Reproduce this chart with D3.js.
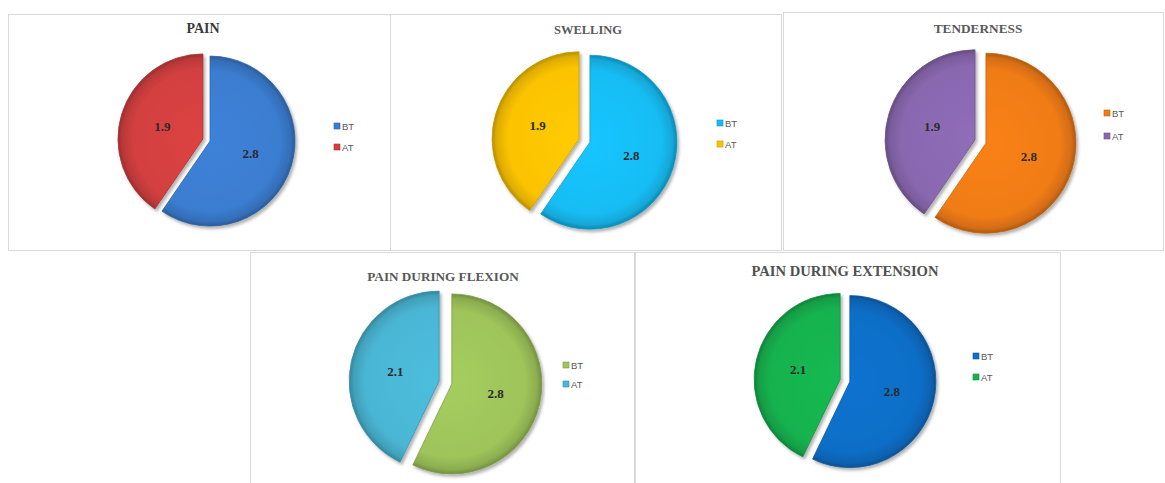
<!DOCTYPE html>
<html>
<head>
<meta charset="utf-8">
<script src="https://cdn.jsdelivr.net/npm/d3@7"></script>
<style>
  html, body { margin: 0; padding: 0; background: #ffffff; }
  svg { display: block; }
</style>
</head>
<body>
<svg id="chart" width="1165" height="483"></svg>
<script>
// ---- data ----
const titles = ["PAIN", "SWELLING", "TENDERNESS", "PAIN DURING FLEXION", "PAIN DURING EXTENSION"];
const categories = ["BT", "AT"];
const btValues = [2.8, 2.8, 2.8, 2.8, 2.8];
const atValues = [1.9, 1.9, 1.9, 2.1, 2.1];
const btColors = ["#3b7dd0", "#14bdf4", "#f07c16", "#9ec45a", "#0f6ec7"];
const atColors = ["#d3403f", "#fbc300", "#8a68b0", "#4ab6d4", "#16b24f"];

// ---- panel layout ----
const layout = [
  { frame: [8, 14, 382, 236],   cx: 206.5, cy: 140,   r: 85, explode: 3.7, titleX: 203, titleY: 33,  titleSize: 14,   titleColor: "#3a3a3a", legendX: 334,  legendY: [126, 147] },
  { frame: [390, 14, 391, 236], cx: 584.5, cy: 140.5, r: 87, explode: 5.7, titleX: 588, titleY: 34,  titleSize: 12.5, titleColor: "#595959", legendX: 717,  legendY: [123, 144] },
  { frame: [783, 12, 380, 238], cx: 980.5, cy: 141.5, r: 90, explode: 5.7, titleX: 978, titleY: 33,  titleSize: 13.3, titleColor: "#595959", legendX: 1104, legendY: [113, 136] },
  { frame: [250, 252, 384, 240], cx: 445.5, cy: 382.5, r: 90, explode: 6.5, titleX: 443, titleY: 281, titleSize: 13.2, titleColor: "#595959", legendX: 563, legendY: [365, 384] },
  { frame: [635, 252, 425, 240], cx: 845,   cy: 380.5, r: 86, explode: 5,   titleX: 845, titleY: 276, titleSize: 14.6, titleColor: "#505050", legendX: 973,  legendY: [356, 377] }
];

const svg = d3.select("#chart");
const defs = svg.append("defs");

// soft shadow under the slices
const shadow = defs.append("filter").attr("id", "sliceShadow")
  .attr("x", "-20%").attr("y", "-20%").attr("width", "140%").attr("height", "140%");
shadow.append("feDropShadow")
  .attr("dx", 2).attr("dy", 2.5).attr("stdDeviation", 1.8)
  .attr("flood-color", "#000").attr("flood-opacity", 0.3);

const pie = d3.pie().sort(null).value(d => d.value).startAngle(0).endAngle(2 * Math.PI);

titles.forEach((title, i) => {
  const L = layout[i];
  const g = svg.append("g").attr("class", "panel");

  // panel frame
  const [fx, fy, fw, fh] = L.frame;
  g.append("rect")
    .attr("x", fx + 0.5).attr("y", fy + 0.5)
    .attr("width", fw).attr("height", fh)
    .attr("fill", "#ffffff").attr("stroke", "#d9d9d9").attr("stroke-width", 1);

  // title
  g.append("text")
    .attr("x", L.titleX).attr("y", L.titleY)
    .attr("text-anchor", "middle")
    .attr("font-family", "'Liberation Serif', 'Times New Roman', serif")
    .attr("font-weight", "bold")
    .attr("font-size", L.titleSize)
    .attr("fill", L.titleColor)
    .text(title);

  const rows = categories.map((c, k) => ({
    cat: c,
    value: k === 0 ? btValues[i] : atValues[i],
    color: k === 0 ? btColors[i] : atColors[i]
  }));

  const arc = d3.arc().innerRadius(0).outerRadius(L.r);
  const arcs = pie(rows);

  const pieG = g.append("g").attr("transform", `translate(${L.cx},${L.cy})`);

  arcs.forEach((a, k) => {
    const mid = (a.startAngle + a.endAngle) / 2;
    const dx = Math.sin(mid) * L.explode;
    const dy = -Math.cos(mid) * L.explode;
    const base = d3.color(a.data.color);
    const gradId = `bevel-${i}-${k}`;
    const grad = defs.append("radialGradient").attr("id", gradId)
      .attr("gradientUnits", "userSpaceOnUse")
      .attr("cx", 0).attr("cy", 0).attr("r", L.r);
    grad.append("stop").attr("offset", "0%").attr("stop-color", base.brighter(0.12).formatHex());
    grad.append("stop").attr("offset", "82%").attr("stop-color", base.formatHex());
    grad.append("stop").attr("offset", "95%").attr("stop-color", base.darker(0.35).formatHex());
    grad.append("stop").attr("offset", "100%").attr("stop-color", base.darker(0.9).formatHex());

    const sg = pieG.append("g").attr("transform", `translate(${dx},${dy})`);
    sg.append("path")
      .attr("d", arc(a))
      .attr("fill", `url(#${gradId})`)
      .attr("stroke", base.darker(0.6).formatHex())
      .attr("stroke-width", 0.8)
      .attr("stroke-linejoin", "round")
      .attr("filter", "url(#sliceShadow)");

    const [lx, ly] = arc.centroid(a);
    sg.append("text")
      .attr("x", lx).attr("y", ly)
      .attr("text-anchor", "middle")
      .attr("dominant-baseline", "central")
      .attr("font-family", "'Liberation Serif', 'Times New Roman', serif")
      .attr("font-weight", "bold")
      .attr("font-size", 13)
      .attr("fill", "#2b2b2b")
      .text(a.data.value.toFixed(1));
  });

  // legend
  rows.forEach((d, k) => {
    const ly = L.legendY[k];
    const c = d3.color(d.color);
    g.append("rect")
      .attr("x", L.legendX).attr("y", ly - 3)
      .attr("width", 6).attr("height", 6)
      .attr("fill", c.formatHex())
      .attr("stroke", c.darker(0.7).formatHex()).attr("stroke-width", 0.6);
    g.append("text")
      .attr("x", L.legendX + 8).attr("y", ly)
      .attr("dominant-baseline", "central")
      .attr("font-family", "'Liberation Sans', Arial, sans-serif")
      .attr("font-size", 9.5)
      .attr("fill", "#595959")
      .text(d.cat);
  });
});
</script>
</body>
</html>
